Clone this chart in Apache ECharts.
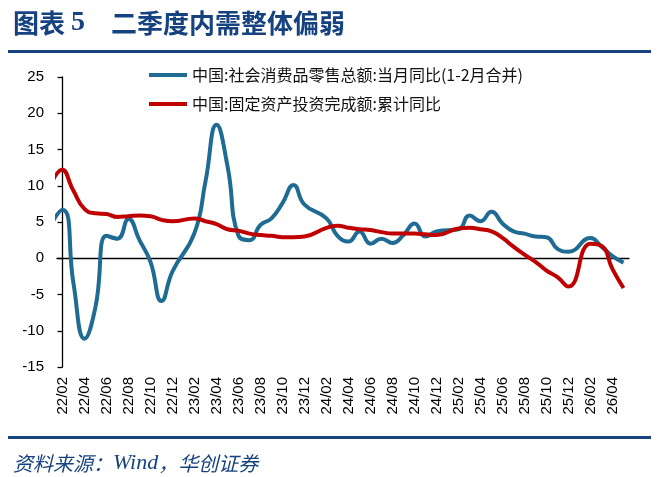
<!DOCTYPE html>
<html>
<head>
<meta charset="utf-8">
<script src="https://cdn.jsdelivr.net/npm/echarts@6/dist/echarts.min.js"></script>
<style>
  html, body { margin: 0; padding: 0; background: #fff; }
  #chart { width: 657px; height: 477px; }
</style>
</head>
<body>
<div id="chart"></div>
<script>
// months with data (no January: Jan-Feb are reported together); 21/12 sits left of the axis and is clipped
const dates = [
  '21/12',
  '22/02', '22/03', '22/04', '22/05', '22/06', '22/07', '22/08', '22/09', '22/10', '22/11', '22/12',
  '23/02', '23/03', '23/04', '23/05', '23/06', '23/07', '23/08', '23/09', '23/10', '23/11', '23/12',
  '24/02', '24/03', '24/04', '24/05', '24/06', '24/07', '24/08', '24/09', '24/10', '24/11', '24/12',
  '25/02', '25/03', '25/04', '25/05', '25/06', '25/07', '25/08', '25/09', '25/10', '25/11', '25/12',
  '26/02', '26/03', '26/04', '26/05'
];
const retail = [
  1.7,
  6.7, -3.5, -11.1, -6.7, 3.1, 2.7, 5.4, 2.5, -0.5, -5.9, -1.8,
  3.5, 10.6, 18.4, 12.7, 3.1, 2.5, 4.6, 5.5, 7.6, 10.1, 7.4,
  5.5, 3.1, 2.3, 3.7, 2.0, 2.7, 2.1, 3.2, 4.8, 3.0, 3.7,
  4.0, 5.9, 5.1, 6.4, 4.8, 3.7, 3.4, 3.0, 2.9, 1.3, 0.9,
  2.8, 1.6, 0.3, -0.6
];
const fai = [
  4.9,
  12.2, 9.3, 6.8, 6.2, 6.1, 5.7, 5.8, 5.9, 5.8, 5.3, 5.1,
  5.5, 5.1, 4.7, 4.0, 3.8, 3.4, 3.2, 3.1, 2.9, 2.9, 3.0,
  4.2, 4.5, 4.2, 4.0, 3.9, 3.6, 3.4, 3.4, 3.4, 3.3, 3.2,
  4.1, 4.2, 4.0, 3.7, 2.8, 1.6, 0.5, -0.5, -1.7, -2.6, -3.9,
  2.0, 1.7, -1.5, -4.1
];
const seriesNames = ['中国:社会消费品零售总额:当月同比(1-2月合并)', '中国:固定资产投资完成额:累计同比'];

// date axis slots 22/02 .. 26/05
const axisMonths = [];
for (let y = 22; y <= 26; y++) {
  for (let m = 1; m <= 12; m++) {
    if ((y === 22 && m < 2) || (y === 26 && m > 5)) continue;
    axisMonths.push(y + '/' + (m < 10 ? '0' + m : m));
  }
}
const monthIdx = d => (+d.slice(0, 2) - 22) * 12 + (+d.slice(3) - 2);

const navy = '#16427f';
const blue = '#1f6b93';
const red = '#c00000';

const myChart = echarts.init(document.getElementById('chart'));

const option = {
  animation: false,
  title: [
    {
      text: '{a|图表 }{b|5}{a|　二季度内需整体偏弱}',
      left: 8,
      top: 4,
      textStyle: {
        rich: {
          a: { fontFamily: 'Noto Sans CJK SC', fontWeight: 'bold', fontSize: 26, color: navy },
          b: { fontFamily: 'Liberation Serif', fontWeight: 'bold', fontSize: 28, color: navy }
        }
      }
    },
    {
      text: '{a|资料来源：}{b|Wind}{a|，华创证券}',
      left: 8,
      top: 447,
      textStyle: {
        rich: {
          a: { fontFamily: 'Noto Sans CJK SC', fontStyle: 'italic', fontWeight: 'normal', fontSize: 20, color: navy },
          b: { fontFamily: 'Liberation Serif', fontStyle: 'italic', fontWeight: 'normal', fontSize: 22, color: navy }
        }
      }
    }
  ],
  graphic: [
    { type: 'rect', left: 8, top: 50, shape: { width: 643, height: 3 }, style: { fill: navy } },
    { type: 'rect', left: 8, top: 436, shape: { width: 643, height: 3 }, style: { fill: navy } }
  ],
  legend: [
    {
      data: [seriesNames[0]],
      left: 144, top: 62,
      icon: 'rect', itemWidth: 38, itemHeight: 4, itemGap: 4,
      textStyle: { fontFamily: 'Noto Sans CJK SC', fontSize: 16, color: '#111' }
    },
    {
      data: [seriesNames[1]],
      left: 144, top: 91,
      icon: 'rect', itemWidth: 38, itemHeight: 4, itemGap: 4,
      textStyle: { fontFamily: 'Noto Sans CJK SC', fontSize: 16, color: '#111' }
    }
  ],
  grid: { left: 57, right: 28, top: 77, bottom: 110 },
  xAxis: [
    // zero line with ticks
    {
      type: 'category', data: axisMonths, position: 'bottom', boundaryGap: true,
      axisLine: { onZero: true, lineStyle: { color: '#000', width: 1.3 } },
      axisTick: { interval: 1, length: 5, lineStyle: { color: '#000', width: 1.3 } },
      axisLabel: { show: false }
    },
    // date labels at the bottom
    {
      type: 'category', data: axisMonths, position: 'bottom', boundaryGap: true,
      axisLine: { show: false, onZero: false },
      axisTick: { show: false },
      axisLabel: {
        interval: 1, rotate: 90, margin: 10,
        fontFamily: 'Liberation Sans', fontSize: 15, color: '#000'
      }
    },
    // hidden value axis the lines are drawn on
    { type: 'value', min: -0.5, max: 51.5, show: false, position: 'bottom' }
  ],
  yAxis: {
    type: 'value', min: -15, max: 25, interval: 5,
    axisLine: { show: true, lineStyle: { color: '#000', width: 1.3 } },
    axisTick: { show: true, length: 5, lineStyle: { color: '#000', width: 1.3 } },
    splitLine: { show: false },
    axisLabel: { margin: 13, fontFamily: 'Liberation Sans', fontSize: 15, color: '#000' }
  },
  series: [
    {
      name: seriesNames[0], type: 'line', xAxisIndex: 2,
      data: dates.map((d, i) => [monthIdx(d), retail[i]]),
      smooth: 0.5, symbol: 'none', clip: true,
      lineStyle: { color: blue, width: 4 }, itemStyle: { color: blue }
    },
    {
      name: seriesNames[1], type: 'line', xAxisIndex: 2,
      data: dates.map((d, i) => [monthIdx(d), fai[i]]),
      smooth: 0.5, symbol: 'none', clip: true,
      lineStyle: { color: red, width: 4 }, itemStyle: { color: red }
    }
  ]
};

myChart.setOption(option);
</script>
</body>
</html>
